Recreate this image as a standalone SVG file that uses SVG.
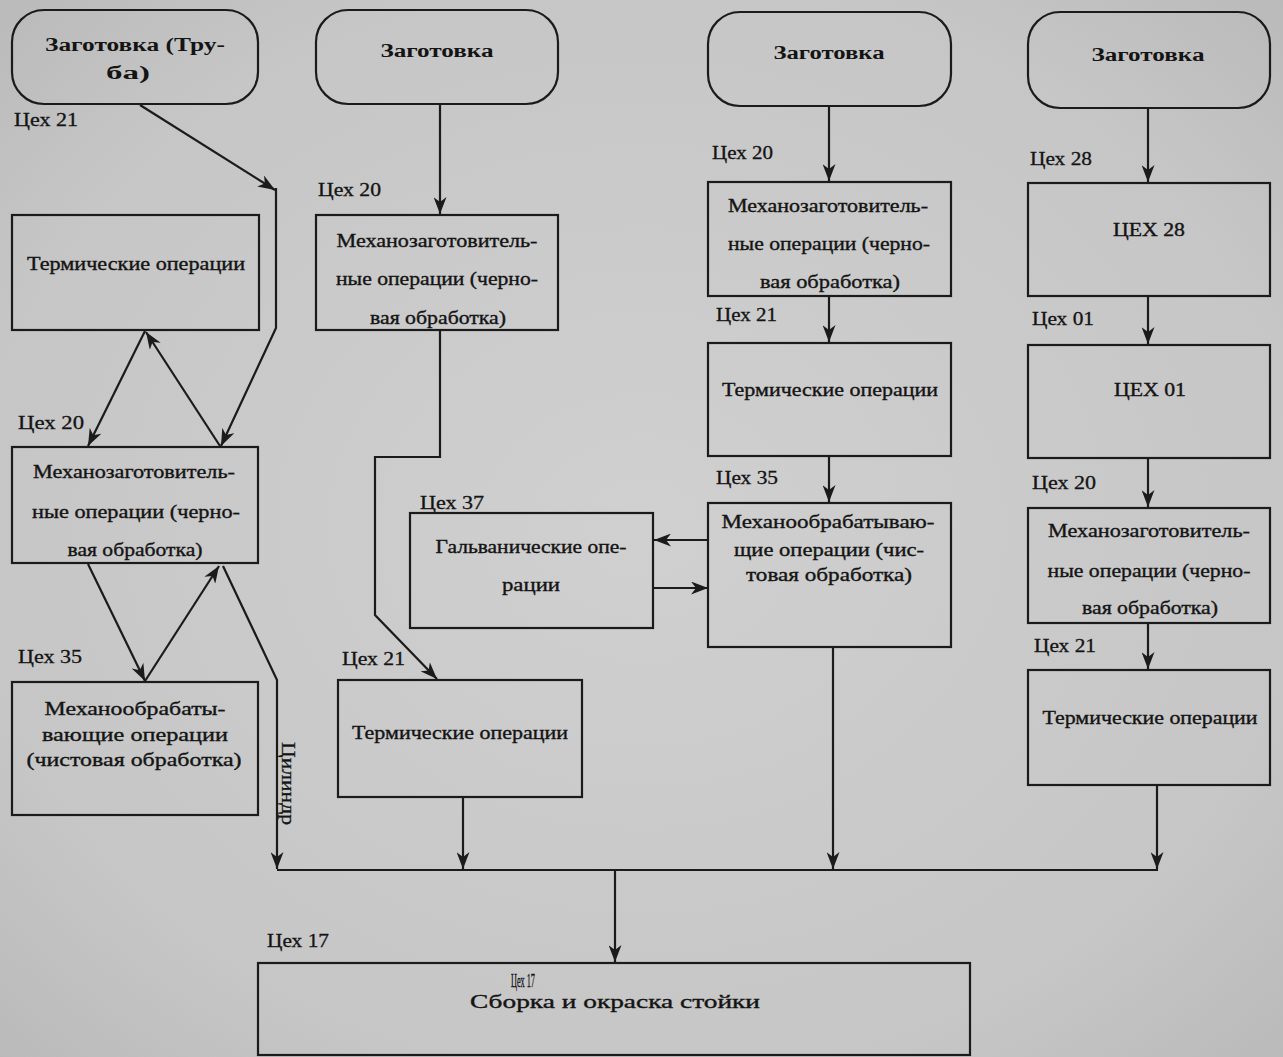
<svg xmlns="http://www.w3.org/2000/svg" width="1283" height="1057" viewBox="0 0 1283 1057">
<style>
.bg{fill:url(#paper)}
.box{fill:none;stroke:#1b1b1b;stroke-width:2.2}
.t{font-family:"Liberation Serif","Times New Roman",serif;font-size:18px;fill:#141414;text-anchor:middle;stroke:#141414;stroke-width:0.35}
.tb{font-weight:bold;stroke-width:0}
.lbl{font-family:"Liberation Serif","Times New Roman",serif;font-size:19px;fill:#141414;stroke:#141414;stroke-width:0.3}
.c{fill:none;stroke:#1b1b1b;stroke-width:2.2}
.a{marker-end:url(#arr)}
</style>
<defs>
<radialGradient id="paper" cx="0.5" cy="0.5" r="0.75">
<stop offset="0" stop-color="#d0d0d0"/>
<stop offset="0.7" stop-color="#c6c6c6"/>
<stop offset="1" stop-color="#b7b7b7"/>
</radialGradient>
<marker id="arr" markerUnits="userSpaceOnUse" markerWidth="17" markerHeight="13" viewBox="0 0 17 13" refX="17" refY="6.5" orient="auto">
<path d="M0,0 L17,6.5 L0,13 L5,6.5 z" fill="#1b1b1b"/>
</marker>
</defs>
<rect class="bg" x="0" y="0" width="1283" height="1057"/>

<g id="connectors">
<path class="c a" d="M140,105 L275,190"/>
<path class="c a" d="M276,188 L276,328 L221,446"/>
<path class="c a" d="M145,331 L88,446"/>
<path class="c a" d="M220,446 L146,332"/>
<path class="c a" d="M88,564 L145,681"/>
<path class="c a" d="M145,681 L219,566"/>
<path class="c a" d="M223,566 L277,680 L277,869"/>
<path class="c a" d="M440,105 L440,214"/>
<path class="c a" d="M440,331 L440,457 L375,457 L375,615 L437,679"/>
<path class="c a" d="M709,540 L654,540"/>
<path class="c a" d="M654,588 L708,588"/>
<path class="c a" d="M463,797 L463,869"/>
<path class="c a" d="M829,106 L829,181"/>
<path class="c a" d="M829,296 L829,342"/>
<path class="c a" d="M829,456 L829,502"/>
<path class="c a" d="M833,648 L833,869"/>
<path class="c a" d="M1148,108 L1148,182"/>
<path class="c a" d="M1148,297 L1148,344"/>
<path class="c a" d="M1148,459 L1148,507"/>
<path class="c a" d="M1148,624 L1148,669"/>
<path class="c a" d="M1157,786 L1157,869"/>
<path class="c" d="M277,870 L1158,870"/>
<path class="c a" d="M615,870 L615,962"/>
<text class="lbl" transform="translate(282,742) rotate(90)" font-size="16" textLength="83" lengthAdjust="spacingAndGlyphs">Цилиндр</text>
</g>

<g id="n1">
<rect class="box" x="12" y="10" width="246" height="94" rx="32"/>
<text class="t tb" x="135" y="51" font-size="20" textLength="180" lengthAdjust="spacingAndGlyphs">Заготовка (Тру-</text>
<text class="t tb" x="128" y="79" font-size="20" textLength="44" lengthAdjust="spacingAndGlyphs">ба)</text>
<text class="lbl" x="14" y="126" textLength="64" lengthAdjust="spacingAndGlyphs">Цех 21</text>
</g>
<g id="n2">
<rect class="box" x="12" y="215" width="247" height="115"/>
<text class="t" x="136" y="270" textLength="218" lengthAdjust="spacingAndGlyphs">Термические операции</text>
</g>
<g id="n3">
<text class="lbl" x="18" y="429" textLength="66" lengthAdjust="spacingAndGlyphs">Цех 20</text>
<rect class="box" x="12" y="447" width="246" height="116"/>
<text class="t" x="134" y="478" textLength="202" lengthAdjust="spacingAndGlyphs">Механозаготовитель-</text>
<text class="t" x="136" y="518" textLength="208" lengthAdjust="spacingAndGlyphs">ные операции (черно-</text>
<text class="t" x="135" y="556" textLength="135" lengthAdjust="spacingAndGlyphs">вая обработка)</text>
</g>
<g id="n4">
<text class="lbl" x="18" y="663" textLength="64" lengthAdjust="spacingAndGlyphs">Цех 35</text>
<rect class="box" x="12" y="682" width="246" height="133"/>
<text class="t" x="135" y="715" textLength="181" lengthAdjust="spacingAndGlyphs">Механообрабаты-</text>
<text class="t" x="135" y="741" textLength="186" lengthAdjust="spacingAndGlyphs">вающие операции</text>
<text class="t" x="134" y="766" textLength="215" lengthAdjust="spacingAndGlyphs">(чистовая обработка)</text>
</g>

<g id="n5">
<rect class="box" x="316" y="10" width="242" height="94" rx="32"/>
<text class="t tb" x="437" y="57" textLength="113" lengthAdjust="spacingAndGlyphs">Заготовка</text>
</g>
<g id="n6">
<text class="lbl" x="318" y="196" textLength="63" lengthAdjust="spacingAndGlyphs">Цех 20</text>
<rect class="box" x="316" y="215" width="242" height="115"/>
<text class="t" x="437" y="247" textLength="201" lengthAdjust="spacingAndGlyphs">Механозаготовитель-</text>
<text class="t" x="437" y="285" textLength="202" lengthAdjust="spacingAndGlyphs">ные операции (черно-</text>
<text class="t" x="438" y="324" textLength="136" lengthAdjust="spacingAndGlyphs">вая обработка)</text>
</g>
<g id="n7">
<text class="lbl" x="420" y="509" textLength="64" lengthAdjust="spacingAndGlyphs">Цех 37</text>
<rect class="box" x="410" y="513" width="243" height="115"/>
<text class="t" x="531" y="553" textLength="191" lengthAdjust="spacingAndGlyphs">Гальванические опе-</text>
<text class="t" x="531" y="591" textLength="58" lengthAdjust="spacingAndGlyphs">рации</text>
</g>
<g id="n8">
<text class="lbl" x="342" y="665" textLength="63" lengthAdjust="spacingAndGlyphs">Цех 21</text>
<rect class="box" x="338" y="680" width="244" height="117"/>
<text class="t" x="460" y="739" textLength="216" lengthAdjust="spacingAndGlyphs">Термические операции</text>
</g>

<g id="n9">
<rect class="box" x="708" y="12" width="243" height="94" rx="32"/>
<text class="t tb" x="829" y="59" textLength="111" lengthAdjust="spacingAndGlyphs">Заготовка</text>
</g>
<g id="n10">
<text class="lbl" x="712" y="159" textLength="61" lengthAdjust="spacingAndGlyphs">Цех 20</text>
<rect class="box" x="708" y="182" width="243" height="114"/>
<text class="t" x="828" y="212" textLength="200" lengthAdjust="spacingAndGlyphs">Механозаготовитель-</text>
<text class="t" x="829" y="250" textLength="202" lengthAdjust="spacingAndGlyphs">ные операции (черно-</text>
<text class="t" x="830" y="288" textLength="140" lengthAdjust="spacingAndGlyphs">вая обработка)</text>
</g>
<g id="n11">
<text class="lbl" x="716" y="321" textLength="61" lengthAdjust="spacingAndGlyphs">Цех 21</text>
<rect class="box" x="708" y="343" width="243" height="113"/>
<text class="t" x="830" y="396" textLength="216" lengthAdjust="spacingAndGlyphs">Термические операции</text>
</g>
<g id="n12">
<text class="lbl" x="716" y="484" textLength="62" lengthAdjust="spacingAndGlyphs">Цех 35</text>
<rect class="box" x="708" y="503" width="243" height="144"/>
<text class="t" x="828" y="528" textLength="213" lengthAdjust="spacingAndGlyphs">Механообрабатываю-</text>
<text class="t" x="829" y="556" textLength="190" lengthAdjust="spacingAndGlyphs">щие операции (чис-</text>
<text class="t" x="829" y="581" textLength="166" lengthAdjust="spacingAndGlyphs">товая обработка)</text>
</g>

<g id="n13">
<rect class="box" x="1028" y="12" width="242" height="96" rx="32"/>
<text class="t tb" x="1148" y="61" textLength="113" lengthAdjust="spacingAndGlyphs">Заготовка</text>
</g>
<g id="n14">
<text class="lbl" x="1030" y="165" textLength="62" lengthAdjust="spacingAndGlyphs">Цех 28</text>
<rect class="box" x="1028" y="183" width="242" height="113"/>
<text class="t" x="1149" y="236" textLength="72" lengthAdjust="spacingAndGlyphs">ЦЕХ 28</text>
</g>
<g id="n15">
<text class="lbl" x="1032" y="325" textLength="62" lengthAdjust="spacingAndGlyphs">Цех 01</text>
<rect class="box" x="1028" y="345" width="242" height="113"/>
<text class="t" x="1150" y="396" textLength="72" lengthAdjust="spacingAndGlyphs">ЦЕХ 01</text>
</g>
<g id="n16">
<text class="lbl" x="1032" y="489" textLength="64" lengthAdjust="spacingAndGlyphs">Цех 20</text>
<rect class="box" x="1028" y="508" width="242" height="115"/>
<text class="t" x="1149" y="537" textLength="202" lengthAdjust="spacingAndGlyphs">Механозаготовитель-</text>
<text class="t" x="1149" y="577" textLength="203" lengthAdjust="spacingAndGlyphs">ные операции (черно-</text>
<text class="t" x="1150" y="614" textLength="136" lengthAdjust="spacingAndGlyphs">вая обработка)</text>
</g>
<g id="n17">
<text class="lbl" x="1034" y="652" textLength="62" lengthAdjust="spacingAndGlyphs">Цех 21</text>
<rect class="box" x="1028" y="670" width="242" height="115"/>
<text class="t" x="1150" y="724" textLength="215" lengthAdjust="spacingAndGlyphs">Термические операции</text>
</g>

<g id="n18">
<text class="lbl" x="267" y="947" textLength="62" lengthAdjust="spacingAndGlyphs">Цех 17</text>
<rect class="box" x="258" y="963" width="712" height="92"/>
<text class="lbl" x="511" y="987" font-size="11" textLength="24" lengthAdjust="spacingAndGlyphs">Цех 17</text>
<text class="t" x="615" y="1008" font-size="23" textLength="290" lengthAdjust="spacingAndGlyphs">Сборка и окраска стойки</text>
</g>
</svg>
